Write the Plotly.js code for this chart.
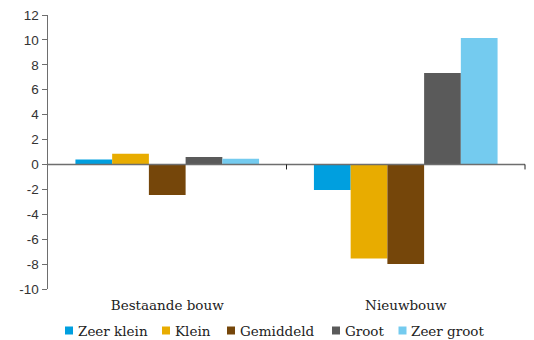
<!DOCTYPE html>
<html>
<head>
<meta charset="utf-8">
<script src="https://cdn.plot.ly/plotly-3.0.1.min.js"></script>
<style>html,body{margin:0;padding:0;background:#fff;}#chart{width:534px;height:340px;}</style>
</head>
<body>
<div id="chart"></div>
<script>
const categories = ["Bestaande bouw", "Nieuwbouw"];
const seriesNames = ["Zeer klein", "Klein", "Gemiddeld", "Groot", "Zeer groot"];
const zeerKlein = [0.4, -2.05];
const klein = [0.85, -7.55];
const gemiddeld = [-2.45, -8.0];
const groot = [0.6, 7.35];
const zeerGroot = [0.45, 10.15];
const yTicks = [-10, -8, -6, -4, -2, 0, 2, 4, 6, 8, 10, 12];
const colors = ["#009FDF", "#E8AC00", "#75460A", "#5A5A5A", "#74CBEF"];

const W = 534, H = 340;
const M = {l: 48, r: 9, t: 15, b: 51};
const plotW = W - M.l - M.r, plotH = H - M.t - M.b;
const px2x = p => (p - M.l) / plotW;
const px2y = p => (H - M.b - p) / plotH;

const values = [zeerKlein, klein, gemiddeld, groot, zeerGroot];
const data = values.map((v, i) => ({
  type: "bar",
  name: seriesNames[i],
  x: categories,
  y: v,
  marker: {color: colors[i], line: {width: 0}},
  hoverinfo: "skip",
  showlegend: false
}));

const axisColor = "#6e6e6e";
const serif = "DejaVu Serif";
const shapes = [
  {type: "line", xref: "paper", yref: "y", x0: 0, x1: 1, y0: 0, y1: 0,
   line: {color: axisColor, width: 1.5}, layer: "above"},
  {type: "line", xref: "x", yref: "y", x0: 0.5, x1: 0.5, y0: 0, y1: -0.4,
   line: {color: "#222", width: 1}},
  {type: "line", xref: "paper", yref: "y", x0: 1, x1: 1, y0: 0, y1: -0.4,
   line: {color: "#222", width: 1}}
];

// custom legend (small squares, tight spacing as in the reference)
const legendSquareX = [65, 162, 227, 332, 398.5];
const legendY = 330.5;
const annotations = [];
seriesNames.forEach((name, i) => {
  const sx = legendSquareX[i];
  shapes.push({type: "rect", xref: "paper", yref: "paper",
    x0: px2x(sx), x1: px2x(sx + 8), y0: px2y(legendY - 4), y1: px2y(legendY + 4),
    fillcolor: colors[i], line: {width: 0}});
  annotations.push({xref: "paper", yref: "paper", x: px2x(sx + 10.5), y: px2y(legendY),
    xanchor: "left", yanchor: "middle", showarrow: false, text: name,
    font: {family: serif, size: 13.5, color: "#222"}});
});

const layout = {
  width: W, height: H,
  margin: Object.assign({autoexpand: false}, M),
  paper_bgcolor: "#fff", plot_bgcolor: "#fff",
  barmode: "group", bargap: 0.23, bargroupgap: 0,
  showlegend: false,
  xaxis: {
    type: "category", range: [-0.5, 1.5],
    showline: false, showgrid: false, zeroline: false, ticks: "",
    tickfont: {family: serif, size: 13.5, color: "#222"},
    ticklabelstandoff: 6, fixedrange: true
  },
  yaxis: {
    range: [-10, 12], tickvals: yTicks, ticktext: yTicks.map(String),
    showline: true, linecolor: axisColor, linewidth: 1.5,
    ticks: "outside", ticklen: 5, tickcolor: axisColor, tickwidth: 1,
    showgrid: false, zeroline: false,
    tickfont: {family: "Liberation Sans", size: 13.5, color: "#333"},
    fixedrange: true
  },
  shapes: shapes,
  annotations: annotations
};

Plotly.newPlot("chart", data, layout, {displayModeBar: false, staticPlot: true});
</script>
</body>
</html>
